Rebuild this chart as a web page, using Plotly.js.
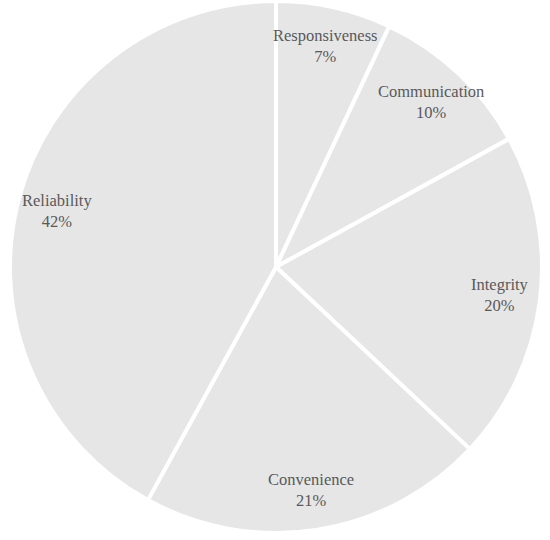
<!DOCTYPE html>
<html>
<head>
<meta charset="utf-8">
<script src="https://cdn.plot.ly/plotly-3.0.1.min.js"></script>
<style>html,body{margin:0;padding:0;background:#fff;}#chart{width:550px;height:540px;}</style>
</head>
<body>
<div id="chart"></div>
<script>
var categories = ["Responsiveness", "Communication", "Integrity", "Convenience", "Reliability"];
var shares = [7, 10, 20, 21, 42];

var W = 550, H = 540, M = {l: 2, r: 0, t: 1, b: 7};
var plotW = W - M.l - M.r, plotH = H - M.t - M.b;
var R = Math.min(plotW, plotH) / 2;
var labelFrac = 0.85;

var total = shares.reduce(function(a, b){return a + b;}, 0);
var annotations = [];
var cum = 0;
shares.forEach(function(v, i){
  var mid = (cum + v / 2) / total * 2 * Math.PI;
  cum += v;
  var dx = R * labelFrac * Math.sin(mid);
  var dy = R * labelFrac * Math.cos(mid);
  annotations.push({
    xref: "paper", yref: "paper",
    x: 0.5 + dx / plotW, y: 0.5 + dy / plotH,
    xanchor: "center", yanchor: "middle",
    text: categories[i] + "<br>" + Math.round(v / total * 100) + "%",
    showarrow: false,
    align: "center",
    font: {family: "Liberation Serif, Times New Roman, serif", size: 16.5, color: "#595959"}
  });
});

var trace = {
  type: "pie",
  labels: categories,
  values: shares,
  sort: false,
  direction: "clockwise",
  rotation: 0,
  marker: {colors: categories.map(function(){return "#e6e6e6";}), line: {color: "#ffffff", width: 4}},
  textinfo: "none",
  hoverinfo: "none",
  showlegend: false
};

Plotly.newPlot("chart", [trace], {
  width: W, height: H,
  margin: M,
  paper_bgcolor: "#ffffff",
  plot_bgcolor: "#ffffff",
  showlegend: false,
  annotations: annotations
}, {displayModeBar: false, staticPlot: true});
</script>
</body>
</html>
